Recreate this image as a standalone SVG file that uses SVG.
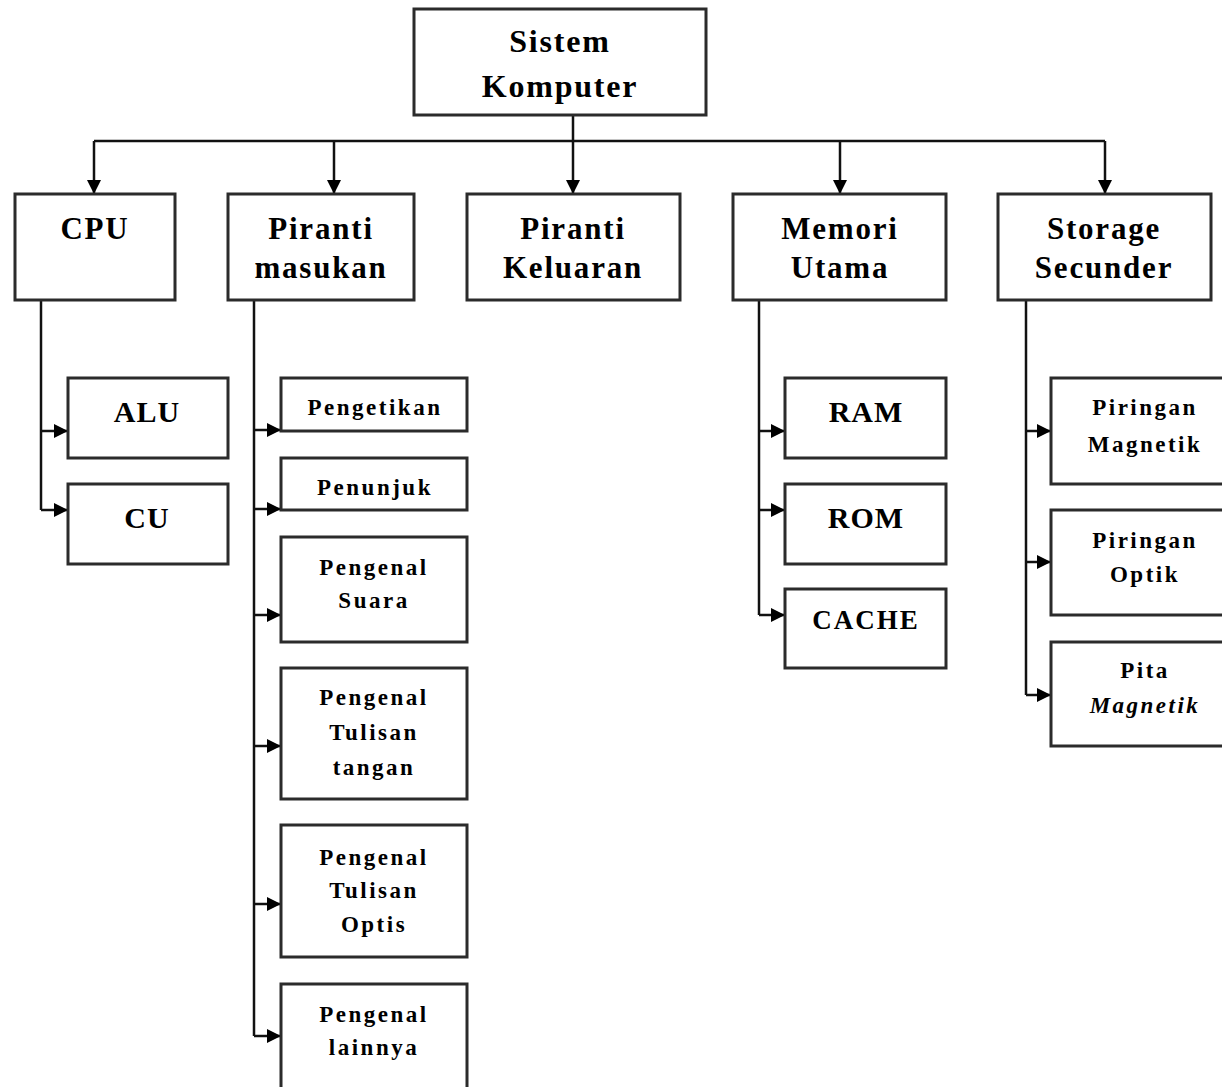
<svg xmlns="http://www.w3.org/2000/svg" width="1222" height="1087" viewBox="0 0 1222 1087">
<defs>
<marker id="ah" viewBox="0 0 14 14" refX="14" refY="7" markerWidth="14" markerHeight="14" markerUnits="userSpaceOnUse" orient="auto"><path d="M0,0 L14,7 L0,14 z" fill="#000"/></marker>
<style>
.box{fill:#fff;stroke:#2b2b2b;stroke-width:3}
.t{font-family:"Liberation Serif","Times New Roman",serif;font-weight:bold;fill:#000;text-anchor:middle}
.l1{font-size:31px;letter-spacing:1.8px}
.top{font-size:32px;letter-spacing:1.8px}
.c1{font-size:30px;letter-spacing:1px}
.c2{font-size:23px;letter-spacing:2.5px}
.conn{fill:none;stroke:#111;stroke-width:2.5}
</style>
</defs>
<rect width="1222" height="1087" fill="#fff"/>
<g id="connectors">
<path class="conn" d="M573,115 V141 M94,141 H1105"/>
<path class="conn" d="M94,141 V194" marker-end="url(#ah)"/>
<path class="conn" d="M334,141 V194" marker-end="url(#ah)"/>
<path class="conn" d="M573,141 V194" marker-end="url(#ah)"/>
<path class="conn" d="M840,141 V194" marker-end="url(#ah)"/>
<path class="conn" d="M1105,141 V194" marker-end="url(#ah)"/>
<path class="conn" d="M41,300 V510"/>
<path class="conn" d="M41,431 H68" marker-end="url(#ah)"/>
<path class="conn" d="M41,510 H68" marker-end="url(#ah)"/>
<path class="conn" d="M254,300 V1036"/>
<path class="conn" d="M254,430 H281" marker-end="url(#ah)"/>
<path class="conn" d="M254,509 H281" marker-end="url(#ah)"/>
<path class="conn" d="M254,615 H281" marker-end="url(#ah)"/>
<path class="conn" d="M254,746 H281" marker-end="url(#ah)"/>
<path class="conn" d="M254,904 H281" marker-end="url(#ah)"/>
<path class="conn" d="M254,1036 H281" marker-end="url(#ah)"/>
<path class="conn" d="M759,300 V615"/>
<path class="conn" d="M759,431 H785" marker-end="url(#ah)"/>
<path class="conn" d="M759,510 H785" marker-end="url(#ah)"/>
<path class="conn" d="M759,615 H785" marker-end="url(#ah)"/>
<path class="conn" d="M1026,300 V695"/>
<path class="conn" d="M1026,431 H1051" marker-end="url(#ah)"/>
<path class="conn" d="M1026,562 H1051" marker-end="url(#ah)"/>
<path class="conn" d="M1026,695 H1051" marker-end="url(#ah)"/>
</g>
<g id="sistem-komputer"><rect class="box" x="414" y="9" width="292" height="106"/><text class="t top" x="560" y="52">Sistem</text><text class="t top" x="560" y="97">Komputer</text></g>
<g id="cpu"><rect class="box" x="15" y="194" width="160" height="106"/><text class="t l1" x="95" y="239">CPU</text></g>
<g id="piranti-masukan"><rect class="box" x="228" y="194" width="186" height="106"/><text class="t l1" x="321" y="239">Piranti</text><text class="t l1" x="321" y="278">masukan</text></g>
<g id="piranti-keluaran"><rect class="box" x="467" y="194" width="213" height="106"/><text class="t l1" x="573" y="239">Piranti</text><text class="t l1" x="573" y="278">Keluaran</text></g>
<g id="memori-utama"><rect class="box" x="733" y="194" width="213" height="106"/><text class="t l1" x="840" y="239">Memori</text><text class="t l1" x="840" y="278">Utama</text></g>
<g id="storage-secunder"><rect class="box" x="998" y="194" width="213" height="106"/><text class="t l1" x="1104" y="239">Storage</text><text class="t l1" x="1104" y="278">Secunder</text></g>
<g id="alu"><rect class="box" x="68" y="378" width="160" height="80"/><text class="t c1" x="147" y="422">ALU</text></g>
<g id="cu"><rect class="box" x="68" y="484" width="160" height="80"/><text class="t c1" x="147" y="528">CU</text></g>
<g id="pengetikan"><rect class="box" x="281" y="378" width="186" height="53"/><text class="t c2" x="375" y="415">Pengetikan</text></g>
<g id="penunjuk"><rect class="box" x="281" y="458" width="186" height="52"/><text class="t c2" x="375" y="495">Penunjuk</text></g>
<g id="pengenal-suara"><rect class="box" x="281" y="537" width="186" height="105"/><text class="t c2" x="374" y="575">Pengenal</text><text class="t c2" x="374" y="608">Suara</text></g>
<g id="pengenal-tulisan-tangan"><rect class="box" x="281" y="668" width="186" height="131"/><text class="t c2" x="374" y="705">Pengenal</text><text class="t c2" x="374" y="740">Tulisan</text><text class="t c2" x="374" y="775">tangan</text></g>
<g id="pengenal-tulisan-optis"><rect class="box" x="281" y="825" width="186" height="132"/><text class="t c2" x="374" y="865">Pengenal</text><text class="t c2" x="374" y="898">Tulisan</text><text class="t c2" x="374" y="932">Optis</text></g>
<g id="pengenal-lainnya"><rect class="box" x="281" y="984" width="186" height="110"/><text class="t c2" x="374" y="1022">Pengenal</text><text class="t c2" x="374" y="1055">lainnya</text></g>
<g id="ram"><rect class="box" x="785" y="378" width="161" height="80"/><text class="t c1" x="866" y="422">RAM</text></g>
<g id="rom"><rect class="box" x="785" y="484" width="161" height="80"/><text class="t c1" x="866" y="528">ROM</text></g>
<g id="cache"><rect class="box" x="785" y="589" width="161" height="79"/><text class="t c1" x="866" y="629" style="font-size:27px;letter-spacing:2px">CACHE</text></g>
<g id="piringan-magnetik"><rect class="box" x="1051" y="378" width="185" height="106"/><text class="t c2" x="1145" y="415">Piringan</text><text class="t c2" x="1145" y="452">Magnetik</text></g>
<g id="piringan-optik"><rect class="box" x="1051" y="510" width="185" height="105"/><text class="t c2" x="1145" y="548">Piringan</text><text class="t c2" x="1145" y="582">Optik</text></g>
<g id="pita-magnetik"><rect class="box" x="1051" y="642" width="185" height="104"/><text class="t c2" x="1145" y="678">Pita</text><text class="t c2" x="1145" y="713" font-style="italic">Magnetik</text></g>
</svg>
